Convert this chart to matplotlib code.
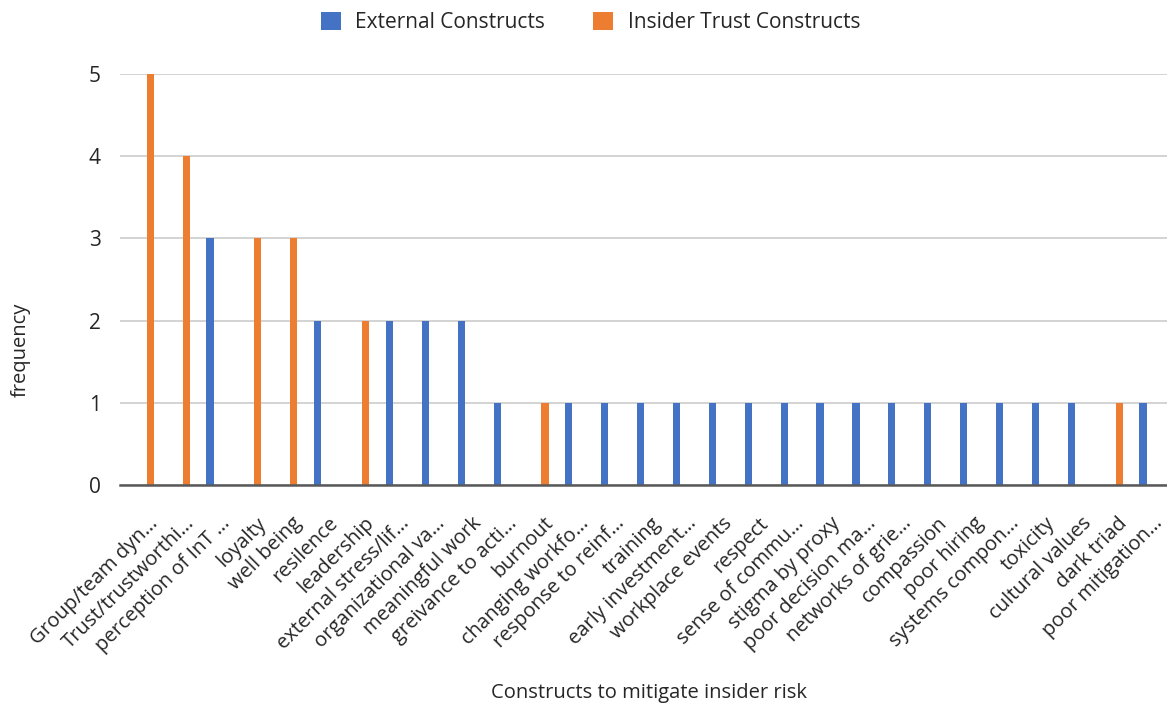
import matplotlib.pyplot as plt
import matplotlib.transforms as mtransforms
import numpy as np

plt.rcParams["font.family"] = ["Open Sans", "DejaVu Sans"]

# construct labels as shown on the axis (long names truncated)
categories = [
    "Group/team dyn…", "Trust/trustworthi…", "perception of InT …", "loyalty",
    "well being", "resilence", "leadership", "external stress/lif…",
    "organizational va…", "meaningful work", "greivance to acti…", "burnout",
    "changing workfo…", "response to reinf…", "training", "early investment…",
    "workplace events", "respect", "sense of commu…", "stigma by proxy",
    "poor decision ma…", "networks of grie…", "compassion", "poor hiring",
    "systems compon…", "toxicity", "cultural values", "dark triad",
    "poor mitigation…",
]
external = [0, 0, 3, 0, 0, 2, 0, 2, 2, 2, 1, 0, 1, 1, 1, 1, 1, 1, 1, 1, 1, 1, 1, 1, 1, 1, 1, 0, 1]
insider = [5, 4, 0, 3, 3, 0, 2, 0, 0, 0, 0, 1, 0, 0, 0, 0, 0, 0, 0, 0, 0, 0, 0, 0, 0, 0, 0, 1, 0]
yticks = [0, 1, 2, 3, 4, 5]

BLUE = "#4472C4"
ORANGE = "#ED7D31"
TEXT = "#262626"

fig = plt.figure(figsize=(11.67, 7.06), dpi=100)
ax = fig.add_axes([0.103, 0.313, 0.897, 0.582])

x = np.arange(len(categories))
offset = 0.167
width = 0.2
ext = np.array(external)
ins = np.array(insider)
ax.bar(x[ext > 0] - offset, ext[ext > 0], width, color=BLUE, zorder=3,
       label="External Constructs")
ax.bar(x[ins > 0] + offset, ins[ins > 0], width, color=ORANGE, zorder=3,
       label="Insider Trust Constructs")

ax.set_xlim(-0.67, 28.5)
ax.set_ylim(0, 5)
ax.set_yticks(yticks)
ax.set_yticklabels([str(v) for v in yticks], fontsize=15, color=TEXT)
ax.grid(axis="y", color="#D0D0D0", linewidth=1.3, zorder=0)
ax.set_axisbelow(True)

ax.set_xticks(x)
ax.set_xticklabels(categories, rotation=45, ha="right", va="top",
                   rotation_mode="anchor", fontsize=14.5, color=TEXT)
ax.tick_params(axis="both", length=0)
ax.tick_params(axis="y", pad=14)
ax.tick_params(axis="x", pad=6)
# nudge the slanted labels so they hang just below-right of each group
shift = mtransforms.ScaledTranslation(4 / 100, -20 / 100, fig.dpi_scale_trans)
for lbl in ax.get_xticklabels():
    lbl.set_transform(lbl.get_transform() + shift)

for side in ["top", "right", "left"]:
    ax.spines[side].set_visible(False)
ax.spines["bottom"].set_color("#595959")
ax.spines["bottom"].set_linewidth(1.8)
ax.spines["bottom"].set_zorder(4)

fig.text(0.018, 0.504, "frequency", fontsize=14.5, color=TEXT, rotation=90,
         ha="center", va="center")
fig.text(0.556, 0.019, "Constructs to mitigate insider risk", fontsize=14.5,
         color=TEXT, ha="center", va="center")

fig.legend(loc="center", bbox_to_anchor=(0.506, 0.968), ncol=2, frameon=False,
           fontsize=15, handlelength=0.95, handleheight=0.95, columnspacing=2.3,
           handletextpad=0.7, labelcolor=TEXT)

fig.savefig("out.png", dpi=100)
